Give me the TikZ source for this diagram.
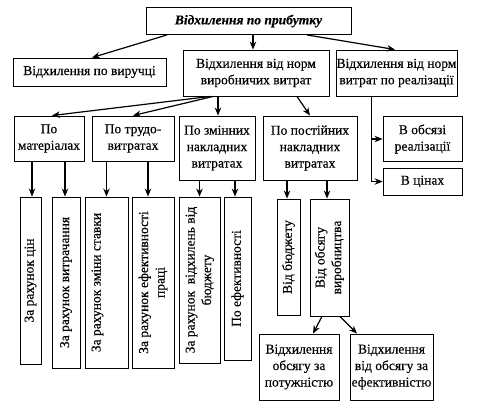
\documentclass[tikz,border=0pt]{standalone}
\usepackage{fontspec}
\setmainfont{Liberation Serif}[FakeBold=0.4]
\usetikzlibrary{arrows.meta}
\begin{document}
\begin{tikzpicture}[x=1pt,y=-1pt,
  box/.style={draw, line width=0.9pt, inner sep=0pt, align=center,
    font=\fontsize{13.5}{16.5}\selectfont},
  arr/.style={line width=1.2pt, -{Stealth[length=8pt,width=6.5pt]}},
  ln/.style={line width=0.9pt}]
\useasboundingbox (0,0) rectangle (496,416);
% level 0
\node[box, minimum width=205, minimum height=27] (top) at (248.5,21) {\bfseries\itshape Відхилення по прибутку};
% level 1
\node[box, minimum width=153, minimum height=28] (rev) at (89.5,72) {Відхилення по виручці};
\node[box, minimum width=146, minimum height=46] (prod) at (256,73) {Відхилення від норм\\виробничих витрат};
\node[box, minimum width=121, minimum height=46] (real) at (396.5,73) {Відхилення від норм\\витрат по реалізації};
% level 2
\node[box, minimum width=70, minimum height=45] (mat) at (49,138.5) {По\\матеріалах};
\node[box, minimum width=82, minimum height=45] (lab) at (133,138.5) {По трудо-\\витратах};
\node[box, minimum width=76, minimum height=64] (var) at (217,148) {По змінних\\накладних\\витратах};
\node[box, minimum width=94, minimum height=64] (fix) at (310,148) {По постійних\\накладних\\витратах};
\node[box, minimum width=79, minimum height=45] (vol) at (422.5,139) {В обсязі\\реалізації};
\node[box, minimum width=79, minimum height=27] (price) at (422.5,181.5) {В цінах};
% level 3 (vertical)
\node[box, minimum width=21, minimum height=167] (c1) at (30.5,280.5) {\rotatebox{90}{За рахунок цін}};
\node[box, minimum width=28, minimum height=171] (c2) at (66,282.5) {\rotatebox{90}{За рахунок витрачання}};
\node[box, minimum width=43, minimum height=171] (c3) at (106.5,282.5) {\rotatebox{90}{За рахунок зміни ставки}\hspace*{18pt}};
\node[box, minimum width=42, minimum height=171] (c4) at (153,282.5) {\rotatebox{90}{\begin{tabular}{@{}c@{}}За рахунок ефективності\\праці\end{tabular}}};
\node[box, minimum width=41, minimum height=166] (c5) at (199.5,280) {\rotatebox{90}{\begin{tabular}{@{}c@{}}За рахунок\ \ відхилень від\\бюджету\end{tabular}}};
\node[box, minimum width=27, minimum height=163] (c6) at (237.5,278.5) {\rotatebox{90}{По ефективності}};
\node[box, minimum width=23, minimum height=116] (d1) at (288.5,257) {\rotatebox{90}{Від бюджету}};
\node[box, minimum width=39, minimum height=117] (d2) at (329.5,257.5) {\rotatebox{90}{\begin{tabular}{@{}c@{}}Від обсягу\\виробництва\end{tabular}}};
% level 4
\node[box, minimum width=80, minimum height=66] (e1) at (299,367) {Відхилення\\обсягу за\\потужністю};
\node[box, minimum width=83, minimum height=66] (e2) at (391.5,367) {Відхилення\\від обсягу за\\ефективністю};
% connectors level 0 -> 1
\draw[arr] ([xshift=-81.5]top.south) -- ([xshift=2.5]rev.north);
\draw[arr] ([xshift=4.5]top.south) -- ([xshift=-3]prod.north);
\draw[arr] ([xshift=58.5]top.south) -- ([xshift=-1.5]real.north);
% level 1 -> 2
\draw[arr] ([xshift=-46]prod.south) -- ([xshift=3]mat.north);
\draw[arr] ([xshift=-43]prod.south) -- (lab.north);
\draw[arr] ([xshift=-38]prod.south) -- ([xshift=1]var.north);
\draw[arr] ([xshift=41]prod.south) -- (fix.north);
\coordinate (rl) at ([xshift=-25.5]real.south);
\draw[ln] (rl) -- (rl |- price.west);
\draw[arr] (rl |- vol.west) -- (vol.west);
\draw[arr] (rl |- price.west) -- (price.west);
% level 2 -> 3
\draw[arr] ([xshift=1.5]c1.north |- mat.south) -- ([xshift=1.5]c1.north);
\draw[arr] ([xshift=-1]c2.north |- mat.south) -- ([xshift=-1]c2.north);
\draw[arr] (c3.north |- lab.south) -- (c3.north);
\draw[arr] ([xshift=-5]c4.north |- lab.south) -- ([xshift=-5]c4.north);
\draw[arr] (c5.north |- var.south) -- (c5.north);
\draw[arr] ([xshift=-2.5]c6.north |- var.south) -- ([xshift=-2.5]c6.north);
\draw[arr] ([xshift=-1.5]d1.north |- fix.south) -- ([xshift=-1.5]d1.north);
\draw[arr] ([xshift=-2.5]d2.north |- fix.south) -- ([xshift=-2.5]d2.north);
% level 3 -> 4
\draw[arr] ([xshift=-7.5]d2.south) -- ([xshift=14]e1.north);
\draw[arr] ([xshift=10.5]d2.south) -- ([xshift=-34.5]e2.north);
\end{tikzpicture}
\end{document}
